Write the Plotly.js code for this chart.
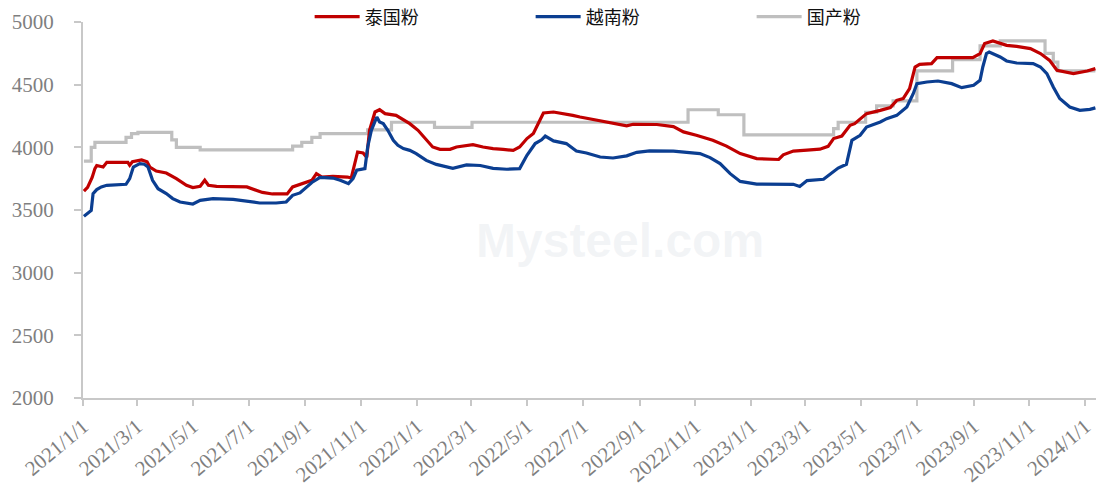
<!DOCTYPE html>
<html>
<head>
<meta charset="utf-8">
<script src="https://cdn.plot.ly/plotly-3.0.1.min.js"></script>
<style>
html,body{margin:0;padding:0;background:#fff;}
#chart{width:1098px;height:486px;}
</style>
</head>
<body>
<div id="chart"></div>
<script>
// 泰国粉
const thaiDates = ['2021-01-02','2021-01-06','2021-01-11','2021-01-14','2021-01-16','2021-01-23','2021-01-27','2021-02-19','2021-02-21','2021-02-24','2021-03-06','2021-03-12','2021-03-15','2021-03-22','2021-04-02','2021-04-13','2021-04-24','2021-05-01','2021-05-09','2021-05-14','2021-05-18','2021-05-27','2021-06-29','2021-07-16','2021-07-27','2021-08-12','2021-08-18','2021-08-26','2021-09-08','2021-09-13','2021-09-19','2021-10-01','2021-10-17','2021-10-21','2021-10-25','2021-10-28','2021-11-03','2021-11-07','2021-11-10','2021-11-16','2021-11-21','2021-11-27','2021-12-09','2021-12-15','2021-12-24','2022-01-02','2022-01-11','2022-01-18','2022-01-26','2022-02-06','2022-02-13','2022-03-03','2022-03-14','2022-03-25','2022-04-05','2022-04-16','2022-04-23','2022-05-01','2022-05-08','2022-05-15','2022-05-19','2022-05-30','2022-06-06','2022-06-20','2022-06-28','2022-07-12','2022-07-31','2022-08-18','2022-08-25','2022-09-20','2022-10-08','2022-10-19','2022-11-02','2022-11-20','2022-12-05','2022-12-20','2023-01-07','2023-01-31','2023-02-05','2023-02-16','2023-03-03','2023-03-17','2023-03-26','2023-04-01','2023-04-10','2023-04-19','2023-04-24','2023-05-07','2023-05-22','2023-06-02','2023-06-09','2023-06-16','2023-06-23','2023-06-29','2023-07-04','2023-07-17','2023-07-23','2023-08-31','2023-09-08','2023-09-13','2023-09-22','2023-10-07','2023-10-18','2023-11-02','2023-11-13','2023-11-23','2023-12-01','2023-12-19','2024-01-03','2024-01-12'];
const thaiValues = [3650,3680,3760,3830,3855,3843,3880,3880,3857,3885,3900,3885,3843,3811,3795,3750,3697,3679,3689,3737,3697,3689,3684,3640,3628,3628,3684,3705,3737,3790,3763,3769,3763,3755,3870,3963,3955,3920,4136,4282,4300,4269,4255,4229,4189,4136,4056,4003,3984,3984,4003,4022,4003,3990,3984,3976,4003,4070,4110,4215,4274,4282,4275,4255,4242,4221,4194,4172,4184,4182,4165,4123,4096,4056,4010,3950,3910,3903,3940,3970,3978,3985,4008,4070,4090,4176,4189,4269,4295,4317,4375,4389,4469,4641,4662,4668,4716,4716,4748,4828,4849,4814,4806,4788,4748,4694,4615,4588,4609,4628];

// 越南粉
const vnDates = ['2021-01-02','2021-01-06','2021-01-10','2021-01-12','2021-01-16','2021-01-21','2021-01-27','2021-02-17','2021-02-21','2021-02-25','2021-03-04','2021-03-09','2021-03-13','2021-03-18','2021-03-24','2021-04-02','2021-04-09','2021-04-17','2021-05-01','2021-05-09','2021-05-23','2021-06-14','2021-06-29','2021-07-13','2021-07-31','2021-08-11','2021-08-18','2021-08-26','2021-09-08','2021-09-17','2021-10-01','2021-10-09','2021-10-18','2021-10-23','2021-10-27','2021-11-05','2021-11-08','2021-11-12','2021-11-18','2021-11-21','2021-11-25','2021-11-30','2021-12-06','2021-12-11','2021-12-17','2021-12-24','2021-12-31','2022-01-11','2022-01-22','2022-02-02','2022-02-09','2022-02-24','2022-03-11','2022-03-25','2022-04-09','2022-04-23','2022-05-01','2022-05-10','2022-05-17','2022-05-21','2022-05-30','2022-06-13','2022-06-24','2022-07-05','2022-07-20','2022-08-03','2022-08-18','2022-08-29','2022-09-12','2022-10-08','2022-10-22','2022-11-06','2022-11-17','2022-11-28','2022-12-09','2022-12-20','2023-01-07','2023-01-25','2023-02-16','2023-02-23','2023-03-03','2023-03-21','2023-03-30','2023-04-06','2023-04-15','2023-04-21','2023-04-30','2023-05-07','2023-05-22','2023-05-29','2023-06-09','2023-06-20','2023-06-27','2023-07-01','2023-07-12','2023-07-24','2023-08-08','2023-08-19','2023-09-01','2023-09-08','2023-09-11','2023-09-15','2023-09-18','2023-09-30','2023-10-07','2023-10-18','2023-11-05','2023-11-13','2023-11-20','2023-11-27','2023-12-04','2023-12-15','2023-12-26','2024-01-06','2024-01-12'];
const vnValues = [3450,3476,3497,3631,3663,3684,3697,3705,3750,3843,3870,3865,3843,3737,3670,3631,3591,3564,3548,3577,3591,3585,3572,3556,3556,3564,3617,3636,3720,3760,3755,3737,3710,3750,3817,3830,4003,4136,4242,4202,4189,4136,4056,4016,3990,3976,3950,3896,3864,3845,3833,3860,3855,3832,3825,3830,3936,4030,4060,4090,4051,4030,3970,3955,3923,3915,3932,3960,3972,3970,3960,3950,3918,3870,3790,3728,3707,3705,3705,3688,3735,3745,3800,3835,3865,4056,4096,4162,4202,4229,4255,4322,4428,4508,4521,4529,4508,4476,4495,4535,4641,4748,4761,4721,4689,4673,4668,4641,4588,4481,4389,4322,4295,4303,4315];

// 国产粉
const cnDates = ['2021-01-02','2021-01-10','2021-01-14','2021-02-17','2021-02-23','2021-03-02','2021-04-08','2021-04-13','2021-05-09','2021-08-18','2021-08-28','2021-09-08','2021-09-17','2021-11-08','2021-12-04','2022-01-20','2022-03-02','2022-10-24','2022-11-26','2022-12-24','2023-04-01','2023-04-06','2023-05-06','2023-05-18','2023-06-05','2023-07-01','2023-08-09','2023-09-08','2023-09-30','2023-11-18','2023-11-27','2023-12-02','2024-01-12'];
const cnValues = [3890,4000,4040,4080,4110,4120,4060,4000,3980,4010,4040,4080,4110,4140,4200,4160,4200,4300,4260,4100,4150,4200,4280,4330,4370,4610,4700,4810,4850,4750,4680,4610,4610];

const seriesNames = ['泰国粉','越南粉','国产粉'];
const seriesColors = ['#C00000','#0B3E91','#BFBFBF'];

const tickFont = {family:'"Liberation Serif","Times New Roman",serif', size:21, color:'#7F7F7F'};

const traces = [
  {x: cnDates, y: cnValues, name: seriesNames[2], type:'scatter', mode:'lines', legendrank:3,
   line:{color:seriesColors[2], width:3.2, shape:'hv'}},
  {x: thaiDates, y: thaiValues, name: seriesNames[0], type:'scatter', mode:'lines', legendrank:1,
   line:{color:seriesColors[0], width:3.2}},
  {x: vnDates, y: vnValues, name: seriesNames[1], type:'scatter', mode:'lines', legendrank:2,
   line:{color:seriesColors[1], width:3.2}}
];

const layout = {
  width:1098, height:486,
  margin:{l:83, r:2, t:22, b:88, autoexpand:false},
  paper_bgcolor:'#fff', plot_bgcolor:'#fff',
  showlegend:true,
  legend:{orientation:'h', xref:'container', yref:'container', x:0.282, xanchor:'left',
          y:0.965, yanchor:'middle',
          font:{family:'"Noto Sans CJK SC",sans-serif', size:18, color:'#111'},
          traceorder:'normal', entrywidth:161, entrywidthmode:'pixels', itemwidth:45,
          bgcolor:'rgba(0,0,0,0)'},
  xaxis:{type:'date', range:['2021-01-01','2024-01-12 16:00'],
         tick0:'2021-01-01', dtick:'M2', tickformat:'%Y/%-m/%-d',
         tickangle:-40, tickfont:tickFont, ticks:'outside', ticklen:6, tickwidth:2,
         tickcolor:'#C8C8C8', showline:true, linecolor:'#C8C8C8', linewidth:2,
         showgrid:false, zeroline:false, fixedrange:true, automargin:false},
  yaxis:{range:[2000,5000], dtick:500, tick0:2000, tickfont:tickFont,
         ticks:'outside', ticklen:7, tickwidth:2, tickcolor:'#C8C8C8',
         showline:true, linecolor:'#C8C8C8', linewidth:2, showgrid:false,
         zeroline:false, ticklabelstandoff:16, fixedrange:true, automargin:false},
  annotations:[
    {xref:'paper', yref:'paper', x:0.53, y:0.42, text:'<b>Mysteel.com</b>', showarrow:false,
     font:{family:'Arial, sans-serif', size:48, color:'rgba(200,205,215,0.22)'}}
  ]
};

Plotly.newPlot('chart', traces, layout, {displayModeBar:false, staticPlot:true});
</script>
</body>
</html>
